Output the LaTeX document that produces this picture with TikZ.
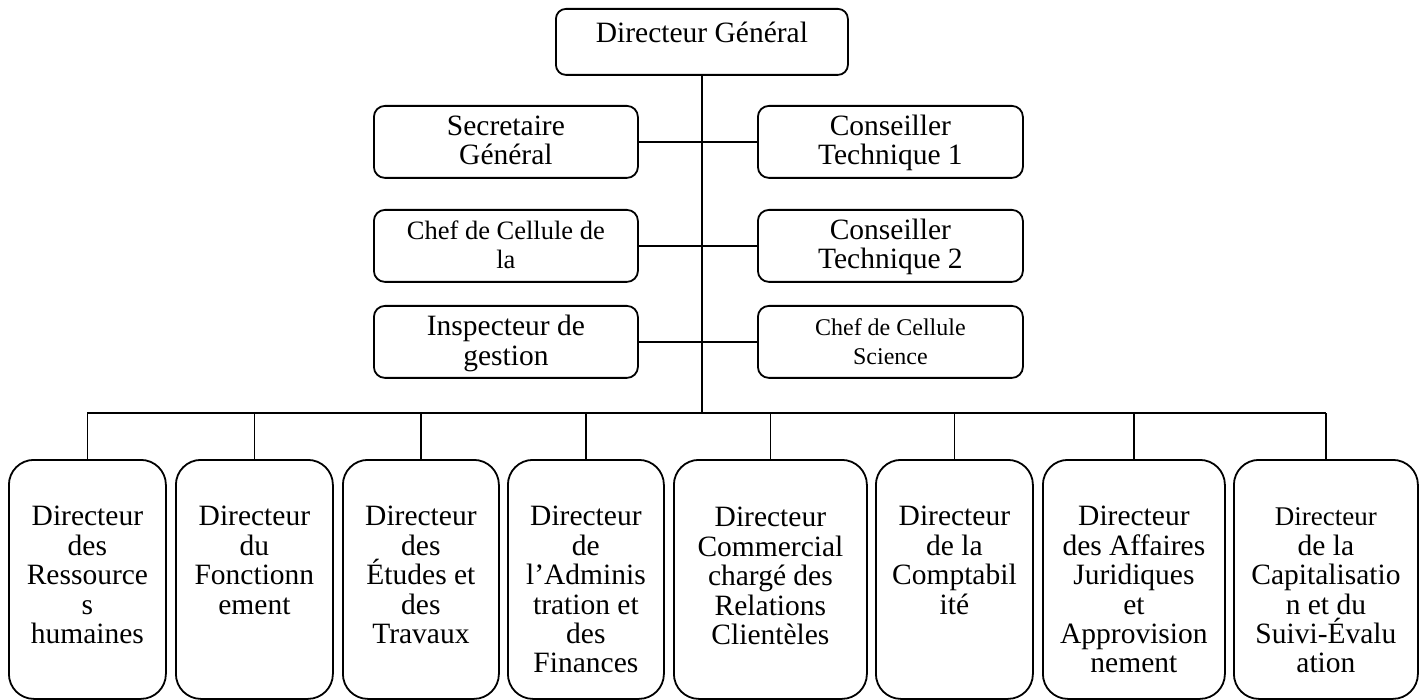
\documentclass[tikz,border=0pt]{standalone}
\usepackage{fontspec}
\setmainfont{Liberation Serif}
% top-aligned cell: width, height, first-baseline offset, text
\newcommand\celltext[4]{\parbox[c][#2][t]{#1}{\centering\rule{0pt}{#3}#4\par}}
\begin{document}
\begin{tikzpicture}[x=1pt,y=-1pt,
  unit/.style={draw, line width=1.8pt, inner sep=0pt, anchor=north west,
    font=\fontsize{29.5}{29.4}\selectfont},
  headbox/.style={unit, rounded corners=10pt},
  staffbox/.style={unit, rounded corners=11pt},
  dirbox/.style={unit, rounded corners=25pt},
  link/.style={line width=1.8pt}]
\useasboundingbox (0,0) rectangle (1424,700);

% head of the organisation
\node[headbox] (dg) at (555,8) {\celltext{292pt}{66pt}{34pt}{Directeur Général}};

% staff attached to the general director
\node[staffbox] (sg)  at (373,105) {\celltext{264pt}{72pt}{29.5pt}{Secretaire\\Général}};
\node[staffbox] (cc)  at (373,209) {\celltext{264pt}{72pt}{29.5pt}{\fontsize{26.5}{29}\selectfont Chef de Cellule de\\la}};
\node[staffbox] (ig)  at (373,305) {\celltext{264pt}{72pt}{30pt}{Inspecteur de\\gestion}};
\node[staffbox] (ct1) at (757,105) {\celltext{265pt}{72pt}{29.5pt}{Conseiller\\Technique 1}};
\node[staffbox] (ct2) at (757,209) {\celltext{265pt}{72pt}{29.5pt}{Conseiller\\Technique 2}};
\node[staffbox] (cs)  at (757,305) {\celltext{265pt}{72pt}{30pt}{\fontsize{24}{28.5}\selectfont Chef de Cellule\\Science}};

% directorates
\node[dirbox] (d1) at (8,459)    {\celltext{157pt}{239pt}{66pt}{Directeur\\des\\Ressource\\s\\humaines}};
\node[dirbox] (d2) at (175,459)  {\celltext{157pt}{239pt}{66pt}{Directeur\\du\\Fonctionn\\ement}};
\node[dirbox] (d3) at (342,459)  {\celltext{156pt}{239pt}{66pt}{Directeur\\des\\Études et\\des\\Travaux}};
\node[dirbox] (d4) at (507,459)  {\celltext{156pt}{239pt}{66pt}{Directeur\\de\\l’Adminis\\tration et\\des\\Finances}};
\node[dirbox] (d5) at (673,459)  {\celltext{193pt}{239pt}{67pt}{Directeur\\Commercial\\chargé des\\Relations\\Clientèles}};
\node[dirbox] (d6) at (875,459)  {\celltext{157pt}{239pt}{66pt}{Directeur\\de la\\Comptabil\\ité}};
\node[dirbox] (d7) at (1042,459) {\celltext{182pt}{239pt}{66pt}{Directeur\\des Affaires\\Juridiques\\et\\Approvision\\nement}};
\node[dirbox] (d8) at (1233,459) {\celltext{184pt}{239pt}{66pt}{{\fontsize{27}{29.4}\selectfont Directeur}\\de la\\Capitalisatio\\n et du\\Suivi-Évalu\\ation}};

% trunk and distribution bus
\coordinate (busy) at (0,413);
\coordinate (trunk) at (dg.south |- busy);
\draw[link] (dg.south) -- (trunk);
\draw[link] (d1.north |- busy) -- (d8.north |- busy);
\foreach \i in {1,...,8}
  \draw[link] (d\i.north |- busy) -- (d\i.north);

% staff links across the trunk
\draw[link] (sg.east) -- (ct1.west);
\draw[link] (cc.east) -- (ct2.west);
\draw[link] (ig.east) -- (cs.west);
\end{tikzpicture}
\end{document}
